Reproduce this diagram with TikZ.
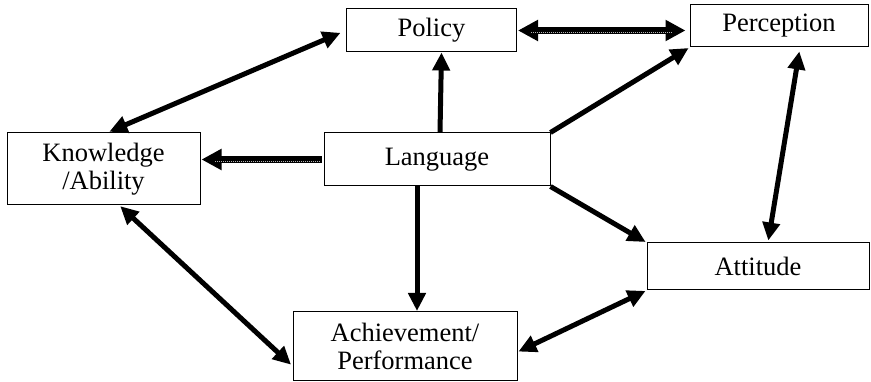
\documentclass[tikz,border=0pt]{standalone}
\usepackage{fontspec}
\setmainfont{Liberation Serif}
\usetikzlibrary{arrows.meta}
\begin{document}
\begin{tikzpicture}[x=1pt,y=-1pt,
  box/.style={draw, line width=1pt, inner sep=0pt, align=center,
    font=\fontsize{26.5}{28}\selectfont},
  arr/.style={line width=5pt, -{Triangle[length=18pt,width=17pt]}},
  darr/.style={line width=5pt, {Triangle[length=18pt,width=17pt]}-{Triangle[length=18pt,width=17pt]}},
  harr/.style={line width=7pt, -{Triangle[length=20pt,width=20pt]}},
  hdarr/.style={line width=7pt, {Triangle[length=20pt,width=20pt]}-{Triangle[length=20pt,width=20pt]}},
  tex/.style={line width=1.2pt, gray!60, dash pattern=on 1pt off 1pt}]
\useasboundingbox (0,0) rectangle (871,382);
\fill[white] (0,0) rectangle (871,382);
\node[box, minimum width=170pt, minimum height=43pt] (pol) at (431.5,30.5) {Policy};
\node[box, minimum width=178pt, minimum height=42pt] (per) at (779,26) {Perception};
\node[box, minimum width=193pt, minimum height=72pt] (kno) at (103.5,169) {Knowledge\\/Ability};
\node[box, minimum width=226pt, minimum height=53pt] (lan) at (437,159.5) {Language};
\node[box, minimum width=222pt, minimum height=47pt] (att) at (758,266.5) {Attitude};
\node[box, minimum width=224pt, minimum height=69pt] (ach) at (405,346) {Achievement/\\Performance};

% connectors
\draw[darr, shorten <=2pt, shorten >=6pt] ([xshift=4pt]kno.north) -- (pol.west);
\draw[arr] ([xshift=3pt]lan.north) -- ([xshift=10pt]pol.south);
\draw[harr, shorten <=2pt, shorten >=1pt] (lan.west) -- (lan.west -| kno.east);
\draw[tex, shorten <=4pt, shorten >=14pt] ([yshift=-2pt]lan.west) -- ([yshift=-2pt]lan.west -| kno.east);
\draw[hdarr, shorten <=1pt, shorten >=4pt] (pol.east) -- (pol.east -| per.west);
\draw[tex, shorten <=14pt, shorten >=18pt] ([yshift=-2pt]pol.east) -- ([yshift=-2pt]pol.east -| per.west);
\draw[arr, shorten >=1pt] (lan.north east) -- (per.south west);
\draw[darr, shorten <=4pt, shorten >=2pt] ([xshift=21pt]per.south) -- ([xshift=10pt]att.north);
\draw[arr, shorten >=1pt] (lan.south east) -- (att.north west);
\draw[arr] ([xshift=-20pt]lan.south) -- ([xshift=12pt]ach.north);
\draw[darr, shorten <=1pt, shorten >=2pt] ([xshift=16pt]kno.south) -- ([yshift=-20pt]ach.west);
\draw[darr, shorten <=1pt, shorten >=1pt] (att.south west) -- ([yshift=-6pt]ach.east);
\end{tikzpicture}
\end{document}
